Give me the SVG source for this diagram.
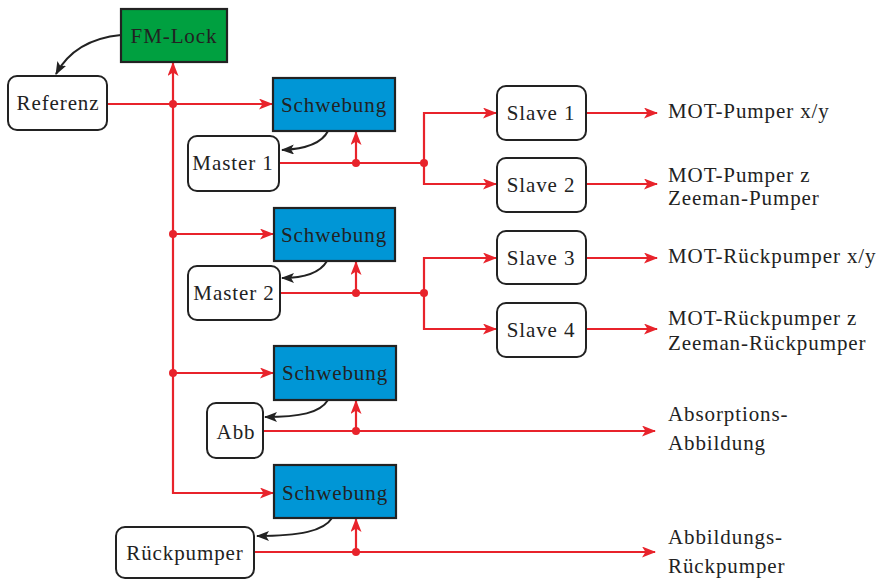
<svg xmlns="http://www.w3.org/2000/svg" width="880" height="580" viewBox="0 0 880 580">
<style>
text{font-family:"Liberation Serif","Times New Roman",serif;font-size:21px;letter-spacing:0.9px;fill:#222}
.n{text-anchor:middle;dominant-baseline:central}
.box{fill:#fff;stroke:#222;stroke-width:2}
.blue{fill:#0096d6;stroke:#222;stroke-width:2.2}
.green{fill:#00a040;stroke:#222;stroke-width:2.2}
.r{fill:none;stroke:#e8232b;stroke-width:2.2}
.ra{fill:none;stroke:#e8232b;stroke-width:2.2;marker-end:url(#ar)}
.k{fill:none;stroke:#222;stroke-width:2;marker-end:url(#ak)}
.dot{fill:#e8232b}
</style>
<defs>
<marker id="ar" viewBox="0 0 14 11" refX="13" refY="5.5" markerWidth="14" markerHeight="11" markerUnits="userSpaceOnUse" orient="auto">
<path d="M0,0 L14,5.5 L0,11 L3.5,5.5 Z" fill="#e8232b"/>
</marker>
<marker id="ak" viewBox="0 0 13 10" refX="12" refY="5" markerWidth="13" markerHeight="10" markerUnits="userSpaceOnUse" orient="auto">
<path d="M0,0 L13,5 L0,10 L3,5 Z" fill="#222"/>
</marker>
</defs>
<g id="connectors">
<path class="ra" d="M107,104 H272"/>
<path class="ra" d="M173,490 V63"/>
<path class="ra" d="M173,234 H273"/>
<path class="ra" d="M173,373 H273"/>
<path class="ra" d="M173,490 V493 H273"/>
<path class="r" d="M279,163 H424"/>
<path class="ra" d="M356,163 V132"/>
<path class="ra" d="M424,163 V113 H496"/>
<path class="ra" d="M424,163 V184 H496"/>
<path class="r" d="M280,293 H424"/>
<path class="ra" d="M356,293 V262"/>
<path class="ra" d="M424,293 V258 H496"/>
<path class="ra" d="M424,293 V329 H496"/>
<path class="ra" d="M263,431 H655"/>
<path class="ra" d="M356,431 V401"/>
<path class="ra" d="M254,552 H655"/>
<path class="ra" d="M356,552 V519"/>
<path class="ra" d="M586,113 H657"/>
<path class="ra" d="M586,184 H657"/>
<path class="ra" d="M586,258 H657"/>
<path class="ra" d="M586,329 H657"/>
<path class="k" d="M121,35 C90,38 68,52 56,74"/>
<path class="k" d="M328,131 C322,143 305,149 282,150"/>
<path class="k" d="M327,261 C320,273 305,278 282,278"/>
<path class="k" d="M328,400 C320,413 300,417 265,417"/>
<path class="k" d="M332,518 C324,531 300,536 257,536"/>
<circle class="dot" cx="173" cy="104" r="4"/>
<circle class="dot" cx="173" cy="234" r="4"/>
<circle class="dot" cx="173" cy="373" r="4"/>
<circle class="dot" cx="356" cy="163" r="4"/>
<circle class="dot" cx="424" cy="163" r="4"/>
<circle class="dot" cx="356" cy="293" r="4"/>
<circle class="dot" cx="424" cy="293" r="4"/>
<circle class="dot" cx="356" cy="431" r="4"/>
<circle class="dot" cx="356" cy="552" r="4"/>
</g>
<g id="fmlock"><rect class="green" x="121" y="9" width="106" height="53"/><text class="n" x="174" y="36">FM-Lock</text></g>
<g id="referenz"><rect class="box" x="8" y="76" width="99" height="54" rx="9"/><text class="n" x="58" y="103">Referenz</text></g>
<g id="schwebung1"><rect class="blue" x="273" y="78" width="122" height="53"/><text class="n" x="334" y="105">Schwebung</text></g>
<g id="master1"><rect class="box" x="188" y="136" width="91" height="55" rx="9"/><text class="n" x="233" y="163">Master 1</text></g>
<g id="schwebung2"><rect class="blue" x="274" y="208" width="121" height="53"/><text class="n" x="334" y="235">Schwebung</text></g>
<g id="master2"><rect class="box" x="188" y="266" width="92" height="54" rx="9"/><text class="n" x="234" y="293">Master 2</text></g>
<g id="schwebung3"><rect class="blue" x="274" y="346" width="122" height="54"/><text class="n" x="335" y="373">Schwebung</text></g>
<g id="abb"><rect class="box" x="207" y="403" width="56" height="55" rx="9"/><text class="n" x="236" y="432">Abb</text></g>
<g id="schwebung4"><rect class="blue" x="274" y="465" width="122" height="53"/><text class="n" x="335" y="493">Schwebung</text></g>
<g id="rueckpumper"><rect class="box" x="116" y="527" width="138" height="51" rx="9"/><text class="n" x="185" y="553">Rückpumper</text></g>
<g id="slave1"><rect class="box" x="497" y="86" width="89" height="54" rx="9"/><text class="n" x="541" y="113">Slave 1</text></g>
<g id="slave2"><rect class="box" x="497" y="158" width="89" height="54" rx="9"/><text class="n" x="541" y="185">Slave 2</text></g>
<g id="slave3"><rect class="box" x="497" y="231" width="89" height="53" rx="9"/><text class="n" x="541" y="258">Slave 3</text></g>
<g id="slave4"><rect class="box" x="497" y="303" width="89" height="54" rx="9"/><text class="n" x="541" y="330">Slave 4</text></g>
<g id="labels">
<text x="668" y="118">MOT-Pumper x/y</text>
<text x="668" y="182">MOT-Pumper z</text>
<text x="668" y="205">Zeeman-Pumper</text>
<text x="668" y="263">MOT-Rückpumper x/y</text>
<text x="668" y="325">MOT-Rückpumper z</text>
<text x="668" y="350">Zeeman-Rückpumper</text>
<text x="668" y="421">Absorptions-</text>
<text x="668" y="450">Abbildung</text>
<text x="668" y="544">Abbildungs-</text>
<text x="668" y="573">Rückpumper</text>
</g>
</svg>
